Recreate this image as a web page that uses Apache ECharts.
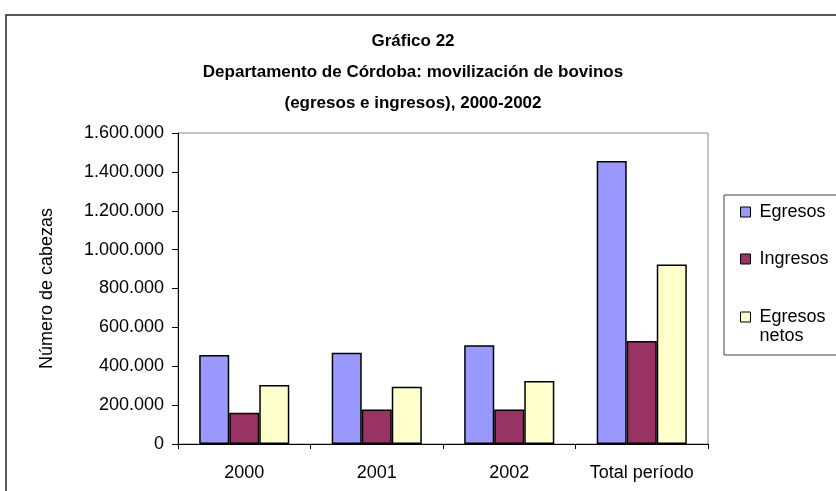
<!DOCTYPE html>
<html>
<head>
<meta charset="utf-8">
<script src="https://cdn.jsdelivr.net/npm/echarts@6/dist/echarts.min.js"></script>
<style>html,body{margin:0;padding:0;background:#fff}#c{width:836px;height:491px}</style>
</head>
<body>
<div id="c"></div>
<script>
var categories = ['2000', '2001', '2002', 'Total período'];
var egresos = [458000, 470000, 508000, 1456000];
var ingresos = [161000, 178000, 178000, 530000];
var egresosNetos = [303000, 295000, 324000, 924000];
var seriesNames = ['Egresos', 'Ingresos', 'Egresos netos'];
var yTicks = { min: 0, max: 1600000, interval: 200000 };

var FONT = 'Liberation Sans, Arial, sans-serif';
function fmt(v) { return String(v).replace(/\B(?=(\d{3})+(?!\d))/g, '.'); }

var chart = echarts.init(document.getElementById('c'), null, { renderer: 'canvas' });
var barBorder = { borderColor: '#000', borderWidth: 1.5 };
chart.setOption({
  animation: false,
  backgroundColor: '#fff',
  title: {
    text: 'Gráfico 22\nDepartamento de Córdoba: movilización de bovinos\n(egresos e ingresos), 2000-2002',
    left: 413, top: 26, textAlign: 'center', padding: 0,
    textStyle: { fontFamily: FONT, fontSize: 17, fontWeight: 'bold', color: '#000', lineHeight: 31 }
  },
  graphic: [
    { type: 'rect', shape: { x: 6, y: 15, width: 900, height: 600 }, style: { fill: 'none', stroke: '#222', lineWidth: 1.5 }, silent: true },
    { type: 'rect', shape: { x: 724, y: 195, width: 200, height: 160 }, style: { fill: '#fff', stroke: '#444', lineWidth: 1 }, z: 0, silent: true }
  ],
  legend: [
    {
      data: [seriesNames[0], seriesNames[1]], orient: 'vertical', left: 740, top: 202.5,
      itemWidth: 10, itemHeight: 10, icon: 'rect', itemGap: 28, padding: 0,
      textStyle: { fontFamily: FONT, fontSize: 18, color: '#000', lineHeight: 19, padding: [0, 0, 0, 4] },
      itemStyle: { borderColor: '#000', borderWidth: 1 }
    },
    {
      data: [seriesNames[2]], orient: 'vertical', left: 740, top: 288.5,
      itemWidth: 10, itemHeight: 10, icon: 'rect', padding: 0,
      formatter: function () { return ' \nEgresos\nnetos'; },
      textStyle: { fontFamily: FONT, fontSize: 18, color: '#000', lineHeight: 19, padding: [0, 0, 0, 4] },
      itemStyle: { borderColor: '#000', borderWidth: 1 }
    }
  ],
  grid: { left: 178, right: 128, top: 133, bottom: 47, show: true, borderColor: '#888', borderWidth: 1, backgroundColor: 'transparent' },
  xAxis: {
    type: 'category', data: categories,
    axisLine: { lineStyle: { color: '#000', width: 1 } },
    axisTick: { show: true, length: 5, interval: 0, lineStyle: { color: '#000' } },
    axisLabel: { fontFamily: FONT, fontSize: 18, color: '#000', margin: 20, interval: 0 },
    splitLine: { show: false }
  },
  yAxis: {
    type: 'value', min: yTicks.min, max: yTicks.max, interval: yTicks.interval,
    name: 'Número de cabezas', nameLocation: 'middle', nameGap: 122,
    nameTextStyle: { fontFamily: FONT, fontSize: 18, color: '#000' },
    axisLine: { show: true, lineStyle: { color: '#000', width: 1 } },
    axisTick: { show: true, length: 6, lineStyle: { color: '#000' } },
    axisLabel: { fontFamily: FONT, fontSize: 18, color: '#000', margin: 14, formatter: fmt },
    splitLine: { show: false }
  },
  series: [
    { name: seriesNames[0], type: 'bar', data: egresos, barGap: '0%', barCategoryGap: '32%', itemStyle: Object.assign({ color: '#9999FF' }, barBorder) },
    { name: seriesNames[1], type: 'bar', data: ingresos, barGap: '0%', barCategoryGap: '32%', itemStyle: Object.assign({ color: '#993366' }, barBorder) },
    { name: seriesNames[2], type: 'bar', data: egresosNetos, barGap: '0%', barCategoryGap: '32%', itemStyle: Object.assign({ color: '#FFFFCC' }, barBorder) }
  ]
});
</script>
</body>
</html>
